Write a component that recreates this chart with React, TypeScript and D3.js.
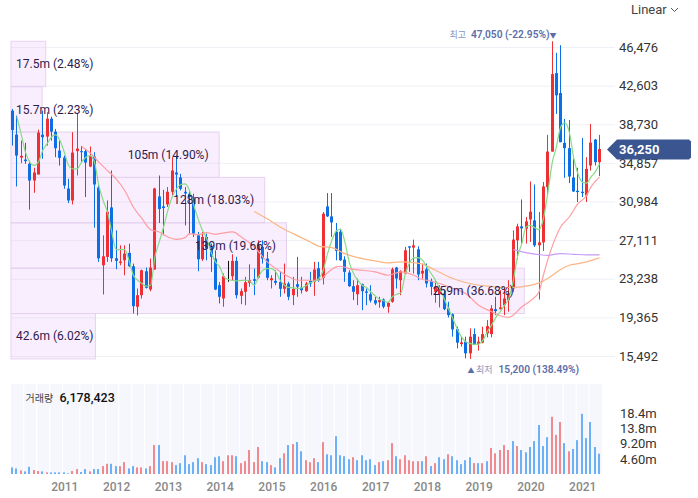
import { useRef, useEffect } from "react";
import {
  select,
  line,
  scaleLinear,
  axisBottom,
  axisRight,
  curveMonotoneX,
} from "d3";

const opens = [40090,37690,35390,35190,34760,33090,33690,37690,37490,39290,37990,36090,35390,32290,31090,36030,36030,36030,34490,35490,32390,24590,25430,30390,25290,24830,25090,25830,24490,20430,21590,23990,22160,24160,31490,30490,30690,31960,33890,33390,31960,31760,31260,27590,25190,27430,26430,25260,22590,21260,23530,23490,25030,21530,21930,22830,23190,23360,26430,25260,23090,23030,22930,22230,22760,21590,22690,22360,21990,23030,22930,24290,23330,30490,29490,27960,27960,25160,23860,22490,21690,22690,21960,21690,21090,20890,21160,20430,20930,24360,23090,23760,26490,26360,26190,23760,24190,23030,21930,21690,21760,20260,19690,18190,16690,16930,15760,17690,16690,16830,17760,17690,20190,20190,20590,21090,22260,27090,28490,28260,29190,29090,26590,26890,32430,35990,43860,41860,36860,36330,33390,32060,31960,31590,34590,37190,34930];
const closes = [38160,35590,35560,35030,33090,33890,37890,37430,39290,37990,36330,35360,32590,31090,35890,36290,35960,34890,35560,32690,25290,25490,29960,25290,25030,24960,25760,24490,20490,21590,24090,22330,24360,32290,30230,30330,31960,34090,33690,32260,31790,31430,27760,25190,27430,26260,25430,22160,21430,23490,23530,25030,21590,21990,22890,23090,23030,26590,25260,23330,23290,22830,22230,22760,21430,22230,22430,22090,22760,22760,24160,23090,29760,29490,28890,26030,25090,23930,22490,21930,22590,21990,21830,21060,20760,21090,20430,20830,24190,23260,23990,26090,26360,26590,23660,24030,22760,22430,22430,22330,20190,19590,18160,16830,16860,15760,17430,16590,16930,17690,18490,20260,19990,20360,21260,21760,27160,28490,28290,28990,29960,26590,26890,32490,35990,43760,41630,36930,36330,33490,31990,31930,31830,34260,36890,34930,36250];
const highs = [40260,39590,37090,36860,35090,34360,38190,40090,39930,39490,38260,37090,35590,33260,37930,39830,36560,36260,36490,35930,32760,27590,31090,34090,28090,26590,26590,26760,24760,22260,24160,24360,25260,32360,33590,32160,32430,35430,35590,33760,32430,32090,31760,27930,27930,27760,26760,26090,22900,23760,25030,25690,25430,22260,23430,24690,24260,27090,27090,25930,23590,24090,23930,24760,22930,23430,25430,23430,22930,23930,24930,24930,29930,31830,31830,28830,28260,25490,24090,23090,23260,22760,22260,22590,21430,21430,21260,20930,24360,24430,24090,26430,26490,27160,26490,24760,24760,23260,23090,22590,22090,20930,19760,18430,17430,17430,18260,18260,17430,18430,19090,20590,21430,22090,22430,23090,28090,28760,31190,29430,32990,32690,29930,32930,37660,47050,45890,46660,39260,39160,35260,34360,37360,35430,38760,37260,37660];
const lows = [36590,32490,34830,34760,30160,31860,33690,35260,36590,37090,35430,34590,32260,30830,30690,33590,34930,31430,34430,28360,24930,21660,24930,24930,24190,24590,23590,24430,19760,19560,21260,22260,21990,24160,28830,27590,30430,31590,31430,32090,28590,27690,27430,23990,25030,25090,23930,22090,20760,20430,22930,23090,21260,20690,20590,22430,21590,23260,24760,23090,22260,22590,21430,21760,21090,20590,21430,21760,21930,22430,21530,22930,22660,29430,27430,25090,25030,22930,22430,21090,20590,20090,20590,20860,20590,20330,20260,19830,20830,22260,21590,23690,23930,23760,23090,23260,22360,21590,20830,20360,20090,19360,17430,16260,16430,15260,15200,16590,16030,16760,17360,17360,19590,20160,19590,19930,21930,25160,26760,26760,26930,26430,21160,26030,31490,35990,39760,36930,33360,32830,31930,30930,31430,30930,34090,34590,33530];

// volume in millions, "r" / "b" is the colour of each bar
const volumes = [2.0,1.7,1.1,0.8,2.2,1.2,0.9,0.8,0.5,0.5,0.5,0.5,0.5,0.2,0.9,1.5,0.6,1.5,0.8,1.5,1.5,2.4,3.1,3.1,2.4,2.4,3.6,1.7,2.4,2.0,2.0,1.7,2.4,8.8,8.8,3.9,3.9,3.6,2.7,3.3,5.7,3.0,3.6,4.8,3.6,3.0,2.7,5.1,5.4,3.9,5.7,5.7,5.4,3.3,3.9,7.3,3.6,8.2,3.9,3.6,2.7,2.0,4.8,6.3,8.8,9.1,9.7,6.9,4.2,3.6,4.8,3.6,9.7,6.0,5.7,11.5,5.7,5.4,4.5,5.1,4.2,5.7,4.2,4.5,2.7,3.6,3.9,4.2,9.4,5.4,4.5,5.7,4.2,3.9,3.9,3.9,5.4,2.4,3.3,5.1,4.5,6.0,5.4,4.2,3.0,4.2,5.1,3.3,3.3,3.3,3.9,7.9,6.3,7.3,8.8,7.3,10.0,8.5,7.3,6.6,8.2,10.0,14.9,8.5,11.2,17.4,11.9,15.8,9.4,6.9,7.6,10.3,18.3,10.9,15.8,8.2,6.18];
const volumeSides = "bbrbbrrbrbbbbbrrbbrbbrrbbrrbbrrbrrbrrrbbbbbbrbbbbrrrbrrrrrbbrbbrbrbbrrrbrbbbbbbrbbbbbrbrrbrrrrrbrbrbbrbbbbbrbrbrrrrrbrbbbbbbbrrrbr";

const ma5Values = [39490,37760,35930,34930,34590,34930,36090,36760,37430,37660,37090,35930,34590,34260,34260,34930,35430,35590,34930,32590,31090,29930,27930,26190,26160,26160,25090,23590,23090,22760,22490,22590,25430,26930,28430,30090,31430,32260,32690,32760,32090,30590,29260,28090,27260,25930,24930,24430,23430,23160,23060,23030,23060,23090,22990,22590,23430,24090,24260,24260,23930,23090,22590,22360,22330,22260,22330,22530,22830,22990,23260,24090,25760,27090,28030,28190,26930,24930,23760,23090,22590,22360,21930,21530,21190,21030,20860,21430,21690,21830,23700,24850,25330,25360,25090,24430,23760,23090,22260,21260,20260,19260,18260,17430,16930,16760,16660,16690,17090,17930,18590,19360,19930,20590,21260,23000,25430,26760,28430,28590,28360,28160,29260,31760,34760,36430,38430,38860,37930,35430,33760,32930,32830,33430,33930,34760];
const ma5Start = 1;

const ma20Index = [16,18,20,22,24,26,28,30,32,34,36,38,40,41,43,45,47,48,51,53,56,59,61,64,66,69,71,73,75,76,78,81,84,87,90,93,95,96,99,102,105,108,111,113,115,116,118,120,122,123,125,127,129,131,133,134,135,136];
const ma20Values = [36490,35860,34930,34090,33260,32090,30430,29260,28160,27930,27430,27190,27360,27760,27660,27860,27690,27760,27930,27430,26430,24930,24260,23430,23090,23090,23090,23830,24430,24490,24260,24090,23930,23590,23930,23590,23160,23090,22760,22260,21760,20590,19930,19530,19360,19590,20430,21030,21930,23590,26430,28430,29430,30760,31590,32430,32990,33430];

const ma60Index = [56,59,62,65,69,71,74,77,80,84,87,90,93,95,98,102,106,110,114,116,119,122,124,127,129,131,133,136];
const ma60Values = [29990,29260,28430,27760,26930,26490,26360,25760,25360,25030,24830,24930,24860,24700,24090,23260,22760,22490,22360,22360,22490,22830,23260,24160,24590,24760,24930,25330];

const ma120Index = [116,119,122,124,127,130,133,136];
const ma120Values = [26160,25860,25660,25590,25760,25690,25630,25630];

// volume by price, top bin first
const binVolumes = [17.5, 15.7, 105, 128, 139, 259, 42.6];
const binLabels = ["17.5m (2.48%)", "15.7m (2.23%)", "105m (14.90%)", "128m (18.03%)", "139m (19.66%)", "259m (36.68%)", "42.6m (6.02%)"];

const priceTicks = [15492, 19365, 23238, 27111, 30984, 34857, 38730, 42603, 46476];
const volumeTicks = [4.6, 9.2, 13.8, 18.4];
const volumeTickLabels = ["4.60m", "9.20m", "13.8m", "18.4m"];
const yearIndexes = [12, 24, 36, 48, 60, 72, 84, 96, 108, 120, 132];
const yearLabels = ["2011", "2012", "2013", "2014", "2015", "2016", "2017", "2018", "2019", "2020", "2021"];
const stripeIndexes = [2.6,5.6,8.6,11.6,15.6,18.6,21.6,24.6,27.6,30.6,33.6,36.6,39.6,43.6,46.6,49.6,52.6,55.6,58.6,61.6,64.6,67.6,71.6,74.6,77.6,80.6,83.6,86.6,89.6,92.6,95.6,99.6,102.6,105.6,108.6,111.6,114.6,117.6,120.6,123.6,127.6,130.6,133.6];

const highestPrice = 47050;
const lowestPrice = 15200;
const lastPrice = 36250;

const font = "Roboto, 'Noto Sans CJK KR', sans-serif";
const upColor = "#ee2f33";
const downColor = "#0c6fe6";

function App() {
  const svgRef = useRef<SVGSVGElement | null>(null);

  const width = 698;
  const height = 498;

  useEffect(() => {
    if (!svgRef.current) return;
    const svg = select(svgRef.current);
    svg.selectAll("*").remove();
    svg.attr("font-family", font);

    const x = scaleLinear().domain([0, 136]).range([12.5, 599.5]);
    const px = (i: number) => Math.floor(x(i)) + 0.5;
    const y = scaleLinear().domain([15492, 46476]).range([356, 47]);
    const yVol = scaleLinear().domain([0, 18.4]).range([474, 413.5]);
    const binX = scaleLinear().domain([0, 259]).range([11, 524.3]);
    const binY = scaleLinear().domain([0, 7]).range([y(highestPrice), y(lowestPrice)]);

    // Price grid
    svg
      .append("g")
      .attr("transform", "translate(615, 0)")
      .call(axisRight(y).tickValues(priceTicks).tickSize(-604).tickFormat((d) => String(d).replace(/(\d+)(\d{3})$/, "$1,$2")))
      .call((g) => g.select(".domain").remove())
      .call((g) => g.selectAll(".tick line").attr("stroke", "#eff1f7"))
      .call((g) =>
        g
          .selectAll(".tick text")
          .attr("x", 4)
          .attr("fill", "#333")
          .attr("font-size", 13)
          .attr("font-family", font)
      );

    // Volume by price
    svg
      .append("g")
      .selectAll("rect")
      .data(binVolumes)
      .join("rect")
      .attr("x", 11)
      .attr("y", (_, i) => binY(i))
      .attr("width", (d) => binX(d) - 11)
      .attr("height", binY(1) - binY(0))
      .attr("fill", "rgba(214,140,240,0.15)")
      .attr("stroke", "#e5d2f0");

    // Candles
    const candles = svg.append("g");
    opens.forEach((open, i) => {
      const close = closes[i];
      const color = close > open ? upColor : close < open ? downColor : "#111";
      candles
        .append("line")
        .attr("x1", px(i))
        .attr("x2", px(i))
        .attr("y1", y(highs[i]))
        .attr("y2", y(lows[i]))
        .attr("stroke", color);
      if (close !== open) {
        candles
          .append("rect")
          .attr("x", px(i) - 1.5)
          .attr("y", y(Math.max(open, close)))
          .attr("width", 3)
          .attr("height", Math.max(1, Math.abs(y(open) - y(close))))
          .attr("fill", color);
      }
    });

    // Moving averages
    const maLine = line<[number, number]>()
      .x((d) => x(d[0]))
      .y((d) => y(d[1]))
      .curve(curveMonotoneX);
    const maSeries: [number[], number[], string][] = [
      [ma120Index, ma120Values, "#c79bf7"],
      [ma60Index, ma60Values, "#fab684"],
      [ma20Index, ma20Values, "#ff9da0"],
      [ma5Values.map((_, i) => i + ma5Start), ma5Values, "#85dc85"],
    ];
    maSeries.forEach(([idx, vals, color]) => {
      svg
        .append("path")
        .attr("fill", "none")
        .attr("stroke", color)
        .attr("stroke-width", 1.2)
        .attr("d", maLine(idx.map((d, i) => [d, vals[i]] as [number, number])));
    });

    // Volume by price labels
    svg
      .append("g")
      .selectAll("text")
      .data(binLabels)
      .join("text")
      .attr("x", (_, i) => (binVolumes[i] > 50 ? binX(binVolumes[i]) - 10.5 : 16))
      .attr("y", (_, i) => binY(i + 0.5))
      .attr("dy", "0.35em")
      .attr("text-anchor", (_, i) => (binVolumes[i] > 50 ? "end" : "start"))
      .attr("font-size", 12)
      .attr("fill", "#2d1b4e")
      .text((d) => d);

    // Highest / lowest price notes
    const note = (tx: number, ty: number, tag: string, value: string, nx: number) => {
      const t = svg.append("text").attr("y", ty);
      t.append("tspan").attr("x", tx).attr("fill", "#8895bf").attr("font-size", 9).text(tag);
      t.append("tspan").attr("x", nx).attr("fill", "#5a6ea8").attr("font-size", 10.2).attr("font-weight", 600).text(value);
    };
    note(449.5, 38, "최고", "47,050 (-22.95%)", 471);
    note(476, 373, "최저", "15,200 (138.49%)", 498.5);
    svg.append("text").attr("x", 553).attr("y", 37.5).attr("text-anchor", "middle").attr("font-size", 7).attr("fill", "#5a6ea8").text("▼");
    svg.append("text").attr("x", 471).attr("y", 372.5).attr("text-anchor", "middle").attr("font-size", 7).attr("fill", "#5a6ea8").text("▲");

    // Last price tag
    const tagY = y(lastPrice) + 0.5;
    svg
      .append("path")
      .attr("d", line()([[607, tagY], [617, tagY - 10], [689, tagY - 10], [691, tagY - 8], [691, tagY + 8], [689, tagY + 10], [617, tagY + 10]])! + "Z")
      .attr("fill", "#3a5590");
    svg
      .append("text")
      .attr("x", 619)
      .attr("y", tagY)
      .attr("dy", "0.35em")
      .attr("font-size", 13)
      .attr("font-weight", 700)
      .attr("fill", "#fff")
      .text(lastPrice.toLocaleString("en-US"));

    // Scale switch
    svg.append("text").attr("x", 631).attr("y", 9).attr("dy", "0.35em").attr("font-size", 13).attr("fill", "#444").text("Linear");
    svg
      .append("path")
      .attr("d", line()([[671, 8], [674.5, 11.5], [678, 8]]))
      .attr("fill", "none")
      .attr("stroke", "#555");

    // Volume panel
    svg.append("rect").attr("x", 11).attr("y", 384).attr("width", 591).attr("height", 90).attr("fill", "#f6f7fd");
    svg
      .append("g")
      .selectAll("line")
      .data(stripeIndexes)
      .join("line")
      .attr("x1", (d) => x(d))
      .attr("x2", (d) => x(d))
      .attr("y1", 384)
      .attr("y2", 474)
      .attr("stroke", "#fff")
      .attr("stroke-width", 1.2);
    svg
      .append("g")
      .selectAll("rect")
      .data(volumes)
      .join("rect")
      .attr("x", (_, i) => Math.max(11, px(i) - 1.5))
      .attr("y", (d) => yVol(d))
      .attr("width", 2)
      .attr("height", (d) => 474 - yVol(d))
      .attr("fill", (_, i) => (volumeSides[i] === "r" ? "#f08a8e" : "#6cb0f6"));

    const volText = svg.append("text").attr("y", 396.5).attr("dy", "0.35em");
    volText.append("tspan").attr("x", 25.5).attr("fill", "#444").attr("font-size", 10).text("거래량");
    volText.append("tspan").attr("x", 59.5).attr("fill", "#111").attr("font-size", 12.5).attr("font-weight", 500).text("6,178,423");

    // Volume axis
    svg
      .append("g")
      .attr("transform", "translate(620, 0)")
      .call(axisRight(yVol).tickValues(volumeTicks).tickSize(0).tickPadding(0).tickFormat((_, i) => volumeTickLabels[i]))
      .call((g) => g.select(".domain").remove())
      .call((g) =>
        g.selectAll(".tick text").attr("fill", "#333").attr("font-size", 13).attr("font-family", font)
      );

    // Year axis
    svg
      .append("g")
      .attr("transform", "translate(0, 479.5)")
      .call(axisBottom(x).tickValues(yearIndexes).tickSize(0).tickPadding(3).tickFormat((_, i) => yearLabels[i]))
      .call((g) => g.select(".domain").remove())
      .call((g) =>
        g
          .selectAll(".tick text")
          .attr("fill", "#888")
          .attr("font-size", 12)
          .attr("font-weight", 500)
          .attr("font-family", font)
      );
  }, [width, height]);

  return (
    <svg
      ref={svgRef}
      width={width}
      height={height}
      viewBox={`0 0 ${width} ${height}`}
      style={{ position: "absolute", left: 0, top: 0 }}
    ></svg>
  );
}

export default App;
